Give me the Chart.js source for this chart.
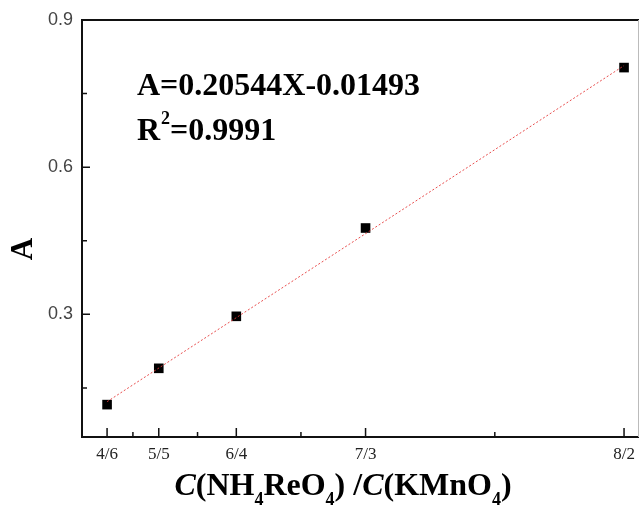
<!DOCTYPE html>
<html>
<head>
<meta charset="utf-8">
<script src="https://cdn.jsdelivr.net/npm/chart.js@4.4.0/dist/chart.umd.min.js"></script>
<style>
  html, body { margin: 0; padding: 0; background: #fff; }
  #wrap { width: 639px; height: 511px; }
</style>
</head>
<body>
<div id="wrap"><canvas id="absChart" width="639" height="511"></canvas></div>
<script>
// ratio C(NH4ReO4)/C(KMnO4) as numbers, with their fraction labels
const xValues = [4 / 6, 5 / 5, 6 / 4, 7 / 3, 8 / 2];
const xLabels = ['4/6', '5/5', '6/4', '7/3', '8/2'];
const xMinorTicks = [0.8333, 1.25, 1.9167, 3.1667];
const absorbance = [0.116, 0.190, 0.296, 0.476, 0.803];

// ends of the fitted line
const fitX = [4 / 6, 8 / 2];
const fitY = [0.122, 0.807];

const yMajorTicks = [0.3, 0.6, 0.9];
const yMinorTicks = [0.15, 0.45, 0.75];

const points = xValues.map((x, i) => ({ x: x, y: absorbance[i] }));
const fitLine = fitX.map((x, i) => ({ x: x, y: fitY[i] }));

const serif = '"Liberation Serif", "Times New Roman", serif';

// inward ticks, frame and the texts drawn on top
const decorations = {
    id: 'decorations',
    afterDraw(chart) {
        const ctx = chart.ctx;
        const area = chart.chartArea;
        const xs = chart.scales.x;
        const ys = chart.scales.y;
        ctx.save();

        // frame top & right
        ctx.strokeStyle = '#111';
        ctx.lineWidth = 2;
        ctx.beginPath();
        ctx.moveTo(area.left, area.top);
        ctx.lineTo(639, area.top);
        ctx.stroke();
        ctx.strokeStyle = '#bbb';
        ctx.lineWidth = 1;
        ctx.beginPath();
        ctx.moveTo(area.right + 0.5, area.top);
        ctx.lineTo(area.right + 0.5, area.bottom);
        ctx.stroke();

        ctx.strokeStyle = '#111';
        ctx.lineWidth = 1.5;
        ctx.beginPath();
        for (const v of xValues) {
            const px = xs.getPixelForValue(v);
            ctx.moveTo(px, area.bottom);
            ctx.lineTo(px, area.bottom - 9);
        }
        for (const v of xMinorTicks) {
            const px = xs.getPixelForValue(v);
            ctx.moveTo(px, area.bottom);
            ctx.lineTo(px, area.bottom - 5);
        }
        for (const v of yMajorTicks) {
            const py = ys.getPixelForValue(v);
            ctx.moveTo(area.left, py);
            ctx.lineTo(area.left + 8, py);
        }
        for (const v of yMinorTicks) {
            const py = ys.getPixelForValue(v);
            ctx.moveTo(area.left, py);
            ctx.lineTo(area.left + 5, py);
        }
        ctx.stroke();

        ctx.fillStyle = '#000';
        ctx.textBaseline = 'alphabetic';
        ctx.textAlign = 'left';

        // equation
        ctx.font = 'bold 32px ' + serif;
        ctx.fillText('A=0.20544X-0.01493', 137, 95);
        ctx.fillText('R', 137, 140);
        let rx = 137 + ctx.measureText('R').width;
        ctx.font = 'bold 18px ' + serif;
        ctx.fillText('2', rx + 1, 124);
        rx += ctx.measureText('2').width + 1;
        ctx.font = 'bold 32px ' + serif;
        ctx.fillText('=0.9991', rx, 140);

        // y title
        ctx.save();
        ctx.translate(32, 249);
        ctx.rotate(-Math.PI / 2);
        ctx.textAlign = 'center';
        ctx.font = 'bold 31px ' + serif;
        ctx.fillText('A', 0, 0);
        ctx.restore();

        // x title with italic C and subscripts
        const parts = [
            { t: 'C', f: 'italic bold 32px ' },
            { t: '(NH', f: 'bold 32px ' },
            { t: '4', f: 'bold 18px ', sub: true },
            { t: 'ReO', f: 'bold 32px ' },
            { t: '4', f: 'bold 18px ', sub: true },
            { t: ') /', f: 'bold 32px ' },
            { t: 'C', f: 'italic bold 32px ' },
            { t: '(KMnO', f: 'bold 32px ' },
            { t: '4', f: 'bold 18px ', sub: true },
            { t: ')', f: 'bold 32px ' }
        ];
        let total = 0;
        for (const p of parts) {
            ctx.font = p.f + serif;
            total += ctx.measureText(p.t).width;
        }
        let tx = 343 - total / 2;
        for (const p of parts) {
            ctx.font = p.f + serif;
            ctx.fillText(p.t, tx, p.sub ? 505 : 495);
            tx += ctx.measureText(p.t).width;
        }
        ctx.restore();
    }
};

const ctx = document.getElementById('absChart').getContext('2d');
new Chart(ctx, {
    type: 'scatter',
    data: {
        datasets: [
            {
                label: 'fit',
                type: 'line',
                data: fitLine,
                borderColor: 'rgba(230, 60, 60, 0.9)',
                borderWidth: 1,
                borderDash: [2, 2],
                pointRadius: 0,
                fill: false
            },
            {
                label: 'A',
                data: points,
                pointStyle: 'rect',
                pointRadius: 6.8,
                pointHoverRadius: 6.8,
                backgroundColor: '#000',
                borderColor: '#000',
                borderWidth: 0
            }
        ]
    },
    options: {
        responsive: false,
        animation: false,
        layout: { autoPadding: false, padding: { top: 20, right: 1, left: 0, bottom: 0 } },
        plugins: {
            legend: { display: false },
            tooltip: { enabled: false }
        },
        scales: {
            x: {
                type: 'linear',
                min: 0.505,
                max: 4.09,
                afterBuildTicks(scale) {
                    scale.ticks = xValues.map(v => ({ value: v }));
                },
                afterFit(scale) {
                    scale.height = 74;
                    scale.paddingRight = 0;
                },
                grid: { display: false, drawTicks: false },
                border: { display: true, color: '#111', width: 2 },
                ticks: {
                    autoSkip: false,
                    maxRotation: 0,
                    padding: 7,
                    color: '#222',
                    font: { family: serif, size: 17 },
                    callback(value) {
                        const i = xValues.findIndex(v => Math.abs(v - value) < 1e-6);
                        return i >= 0 ? xLabels[i] : '';
                    }
                }
            },
            y: {
                type: 'linear',
                min: 0.05,
                max: 0.9,
                afterBuildTicks(scale) {
                    scale.ticks = yMajorTicks.map(v => ({ value: v }));
                },
                afterFit(scale) { scale.width = 82; },
                grid: { display: false, drawTicks: false },
                border: { display: true, color: '#111', width: 2 },
                ticks: {
                    padding: 9,
                    color: '#444',
                    font: { family: '"Liberation Sans", Arial, sans-serif', size: 18 },
                    callback(value) { return value.toFixed(1); }
                }
            }
        }
    },
    plugins: [decorations]
});
</script>
</body>
</html>
